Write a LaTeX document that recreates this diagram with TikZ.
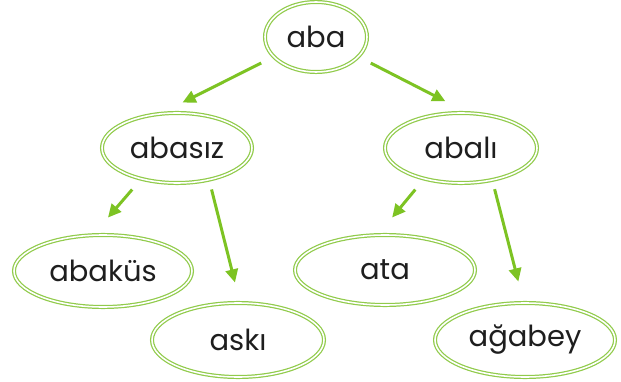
\documentclass[tikz,border=0pt]{standalone}
\usepackage{fontspec}
\setmainfont{Poppins}
\usetikzlibrary{arrows.meta,shapes.geometric}
\definecolor{ringgreen}{RGB}{145,203,75}
\definecolor{arrowgreen}{RGB}{125,195,35}
\definecolor{wordgray}{RGB}{30,30,30}
\tikzset{
  word/.style={ellipse, draw=ringgreen, double=white, line width=0.7pt,
    double distance=0.9pt, inner sep=0pt, text=wordgray,
    font=\fontsize{16.5}{18}\selectfont},
  link/.style={draw=arrowgreen, line width=1.7pt,
    -{Triangle[length=7.5pt,width=7pt]}}
}
\begin{document}
\begin{tikzpicture}
\useasboundingbox (0,0) rectangle (12.42,7.62);
% words
\foreach \n/\x/\y/\w/\h/\t in {aba/6.32/6.88/2.04/1.40/aba,
  abasiz/3.54/4.66/3.00/1.40/abasız, abakus/2.06/2.20/3.56/1.44/abaküs,
  aski/4.76/0.82/3.44/1.48/askı, abali/9.22/4.66/3.04/1.40/abalı,
  ata/7.70/2.22/3.60/1.40/ata, agabey/10.50/0.82/3.60/1.48/ağabey} {
  \node[word, minimum width=\w cm, minimum height=\h cm] (\n) at (\x,\y) {\t};
}
% arrows
\foreach \a/\b/\s/\e in {aba.205/abasiz.114/0.27/0.47, aba.335/abali.80/0.27/0.49,
  abasiz.221/abakus.105/0.27/0.45, abasiz.315/aski.87/0.19/0.41,
  abali.220/ata.101/0.27/0.44, abali.314/agabey.92/0.18/0.43} {
  \draw[link, shorten <=\s cm, shorten >=\e cm] (\a) -- (\b);
}
\end{tikzpicture}
\end{document}
